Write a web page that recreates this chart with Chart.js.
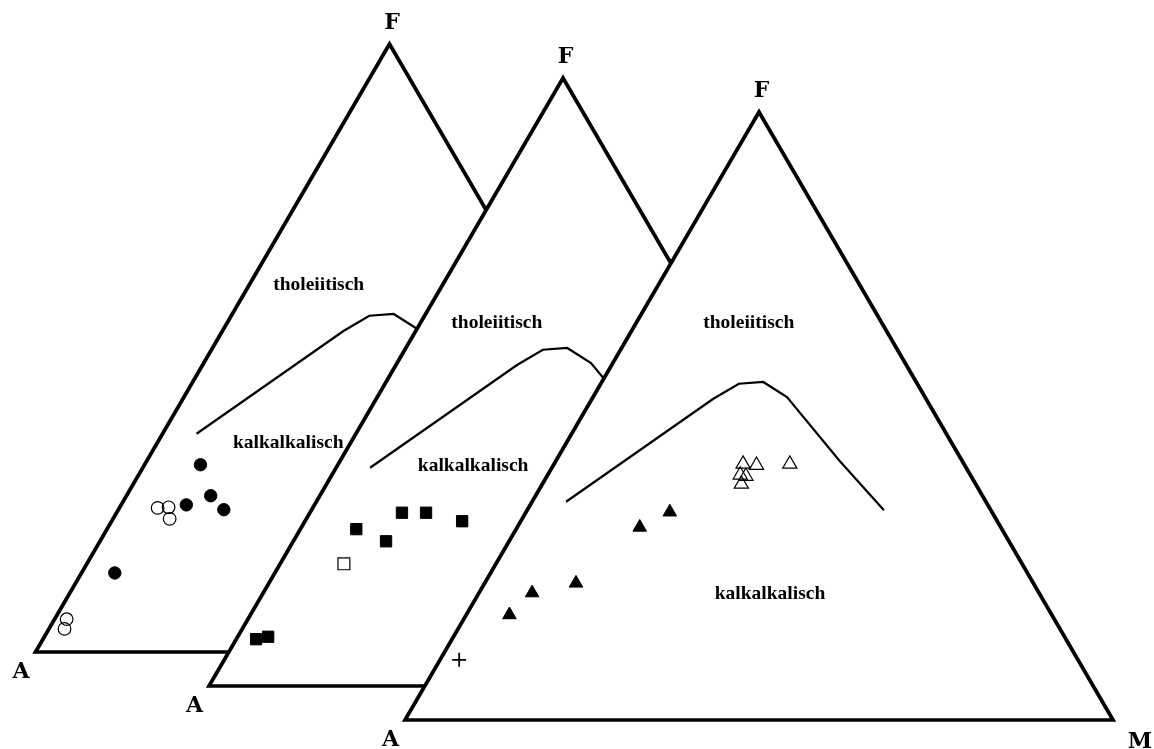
<!DOCTYPE html>
<html>
<head>
<meta charset="utf-8">
<script src="https://cdn.jsdelivr.net/npm/chart.js@4.4.1/dist/chart.umd.min.js"></script>
<style>
  html, body { margin: 0; padding: 0; background: #ffffff; }
  canvas { display: block; }
</style>
</head>
<body>
<canvas id="c" width="1154" height="749"></canvas>
<script>
// ---------- DATA (ternary compositions in %, as [A, F, M]) ----------
const vertexNames = ['A', 'F', 'M'];
const regionNames = ['tholeiitisch', 'kalkalkalisch'];

// Tholeiitic / calc-alkaline boundary (same in all three diagrams)
const boundaryCurve = [
  [59.3, 35.9, 4.8], [30.1, 52.8, 17.1], [25.2, 55.3, 19.5], [21.6, 55.6, 22.8],
  [19.5, 53.1, 27.4], [17.3, 42.6, 40.1], [15.1, 34.5, 50.4]
];

// Diagram 1: circles
const d1Filled = [
  [61.3, 30.8, 7.9], [66.6, 24.2, 9.2], [62.4, 25.7, 11.9], [61.7, 23.4, 14.9], [82.3, 13.0, 4.7]
];
const d1Open = [
  [70.9, 23.7, 5.4], [69.3, 23.8, 6.9], [70.1, 21.9, 8.0], [92.9, 5.4, 1.7], [94.0, 3.8, 2.2]
];

// Diagram 2: squares
const d2Filled = [
  [89.5, 7.7, 2.8], [87.6, 8.1, 4.3], [66.3, 25.8, 7.9], [63.1, 23.8, 13.1],
  [58.5, 28.5, 13.0], [55.1, 28.5, 16.4], [50.7, 27.1, 22.2]
];
const d2Open = [
  [70.9, 20.1, 9.0]
];

// Diagram 3: triangles and cross
const d3Filled = [
  [76.6, 17.3, 6.1], [71.6, 20.9, 7.5], [64.6, 22.5, 12.9], [51.0, 31.7, 17.3], [45.5, 34.2, 20.3]
];
const d3Open = [
  [31.2, 42.1, 26.7], [29.4, 41.9, 28.7], [24.6, 42.1, 33.3],
  [32.5, 40.3, 27.2], [31.8, 40.1, 28.1], [33.1, 38.8, 28.1]
];
const d3Cross = [
  [87.4, 9.9, 2.7]
];

// Region label anchor compositions per diagram [A, F, M]
const tholLabelPos = [[29.8, 60.4, 9.8], [29.5, 59.7, 10.8], [18.8, 65.3, 15.9]];
const kalkLabelPos = [[47.1, 34.4, 18.5], [44.6, 36.2, 19.2], [38.1, 20.7, 41.2]];

// ---------- LAYOUT ----------
const layout = {
  xMin: -5.014, xMax: 157.98,
  yMin: -15.954, yMax: 107.237,
  offsets: [ {dx: 0, dy: 0}, {dx: 24.51, dy: -5.592}, {dx: 52.19, dy: -11.184} ]
};

function toXY(c, k) {
  const F = c[1], M = c[2];
  const o = layout.offsets[k];
  return { x: M + F / 2 + o.dx, y: F + o.dy };
}
function conv(arr, k) { return arr.map(c => toXY(c, k)); }

const corners = [[100, 0, 0], [0, 0, 100], [0, 100, 0], [100, 0, 0], [0, 0, 100]];

const datasets = [];
const groups = [
  { filled: d1Filled, open: d1Open, style: 'circle', fr: 6.2, or: 6.3 },
  { filled: d2Filled, open: d2Open, style: 'rect', fr: 8, or: 8.4 },
  { filled: d3Filled, open: d3Open, style: 'triangle', fr: 7.8, or: 8.2 }
];

groups.forEach((g, k) => {
  const base = (3 - k) * 10;
  datasets.push({
    label: 'frame' + (k + 1),
    data: conv(corners, k),
    showLine: true,
    borderColor: '#000',
    borderWidth: 3.7,
    borderJoinStyle: 'miter',
    backgroundColor: '#ffffff',
    fill: 'shape',
    pointRadius: 0,
    order: base + 5,
    clip: false
  });
  datasets.push({
    label: 'boundary' + (k + 1),
    data: conv(boundaryCurve, k),
    showLine: true,
    borderColor: '#000',
    borderWidth: 2.2,
    borderJoinStyle: 'miter',
    fill: false,
    pointRadius: 0,
    order: base + 4,
    clip: false
  });
  datasets.push({
    label: 'filled' + (k + 1),
    data: conv(g.filled, k),
    showLine: false,
    pointStyle: g.style,
    pointRadius: g.fr,
    pointBackgroundColor: '#000',
    pointBorderColor: '#000',
    pointBorderWidth: 1,
    order: base + 3,
    clip: false
  });
  datasets.push({
    label: 'open' + (k + 1),
    data: conv(g.open, k),
    showLine: false,
    pointStyle: g.style,
    pointRadius: g.or,
    pointBackgroundColor: 'rgba(0,0,0,0)',
    pointBorderColor: '#000',
    pointBorderWidth: 1.2,
    order: base + 2,
    clip: false
  });
});
datasets.push({
  label: 'cross3',
  data: conv(d3Cross, 2),
  showLine: false,
  pointStyle: 'cross',
  pointRadius: 7,
  pointBorderColor: '#000',
  pointBorderWidth: 1.8,
  order: 1,
  clip: false
});

const labelPlugin = {
  id: 'ternaryLabels',
  afterDatasetsDraw(chart) {
    const ctx = chart.ctx, xs = chart.scales.x, ys = chart.scales.y;
    const px = p => ({ x: xs.getPixelForValue(p.x), y: ys.getPixelForValue(p.y) });
    ctx.save();
    ctx.fillStyle = '#000';
    ctx.textAlign = 'center';
    ctx.textBaseline = 'middle';
    // region labels
    ctx.font = 'bold 19.5px "Liberation Serif", "Times New Roman", serif';
    for (let k = 0; k < 3; k++) {
      const t = px(toXY(tholLabelPos[k], k));
      ctx.fillText(regionNames[0], t.x, t.y);
      const q = px(toXY(kalkLabelPos[k], k));
      ctx.fillText(regionNames[1], q.x, q.y);
    }
    // vertex labels
    ctx.font = 'bold 22px "DejaVu Serif", serif';
    for (let k = 0; k < 3; k++) {
      const a = px(toXY([100, 0, 0], k));
      ctx.fillText(vertexNames[0], a.x - 14.5, a.y + 20);
      const f = px(toXY([0, 100, 0], k));
      ctx.fillText(vertexNames[1], f.x + 2.5, f.y - 20.5);
      if (k === 2) {
        const m = px(toXY([0, 0, 100], k));
        ctx.fillText(vertexNames[2], m.x + 27, m.y + 22);
      }
    }
    ctx.restore();
  }
};

new Chart(document.getElementById('c'), {
  type: 'scatter',
  data: { datasets },
  options: {
    responsive: false,
    animation: false,
    layout: { padding: 0, autoPadding: false },
    scales: {
      x: { type: 'linear', min: layout.xMin, max: layout.xMax, display: false },
      y: { type: 'linear', min: layout.yMin, max: layout.yMax, display: false }
    },
    plugins: {
      legend: { display: false },
      tooltip: { enabled: false },
      filler: { drawTime: 'beforeDatasetDraw' }
    }
  },
  plugins: [labelPlugin]
});
</script>
</body>
</html>
